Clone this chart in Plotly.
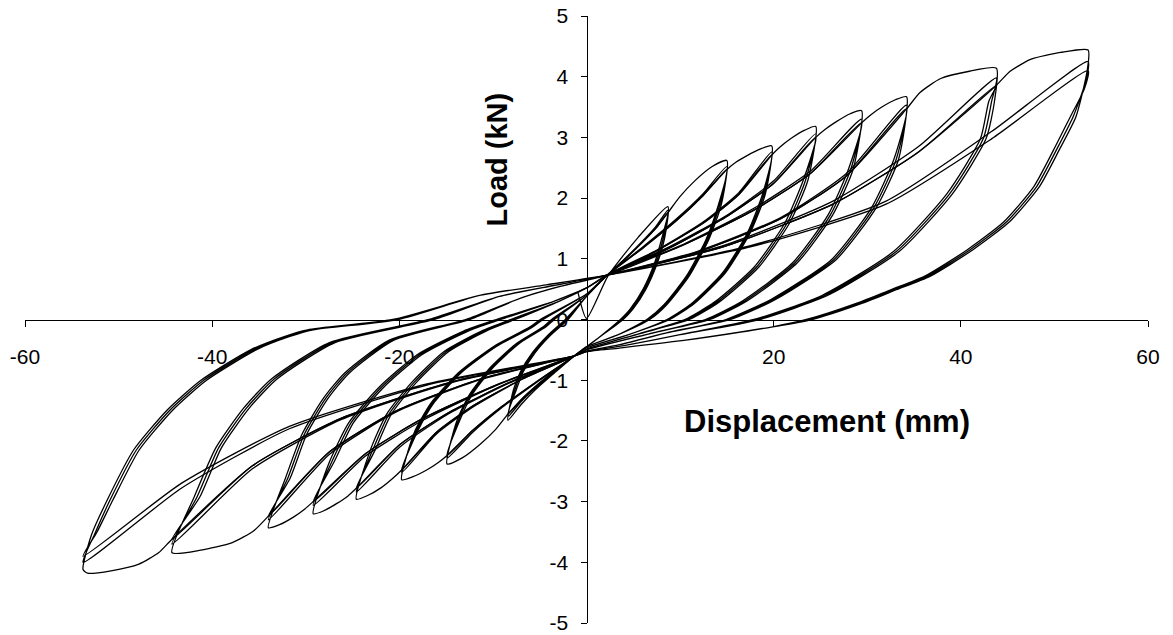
import plotly.graph_objects as go

# ---- tick values / labels ----
x_ticks = [-60, -40, -20, 20, 40, 60]
x_labels = ["-60", "-40", "-20", "20", "40", "60"]
y_ticks = [-5, -4, -3, -2, -1, 0, 1, 2, 3, 4, 5]
y_labels = ["-5", "-4", "-3", "-2", "-1", "0", "1", "2", "3", "4", "5"]

# ---- hysteresis paths, one list per displacement level (3 cycles each) ----
level1 = [
    (-0.9, 0.44), (0, 0.02), (2.3, 0.72), (5.5, 1.35), (8.7, 1.86),
    (8.35, 1.34), (7.57, 0.93), (6.35, 0.5), (4.96, 0.17), (3.92, 0), (1.3, -0.3), (0, -0.45), (-1.3, -0.6),
    (-3.43, -0.88), (-5.42, -1.15), (-6.98, -1.4), (-8.4, -1.66),
    (-7.81, -1.16), (-7.06, -0.86), (-5.8, -0.55), (-4.2, -0.27), (-2.27, 0), (0, 0.38), (2.2, 0.73),
    (4.15, 1.01), (5.97, 1.29), (7.4, 1.53), (8.7, 1.8),
    (8.2, 1.34), (7.42, 0.93), (6.2, 0.5), (4.81, 0.17), (3.77, 0), (1.3, -0.3), (0, -0.45), (-1.3, -0.6),
    (-3.43, -0.86), (-5.42, -1.12), (-6.98, -1.35), (-8.4, -1.6),
    (-7.66, -1.16), (-6.91, -0.86), (-5.65, -0.55), (-4.05, -0.27), (-2.12, 0), (0, 0.38), (2.2, 0.73),
    (4.15, 1.0), (5.97, 1.27), (7.4, 1.5), (8.7, 1.76),
    (8.05, 1.34), (7.27, 0.93), (6.05, 0.5), (4.66, 0.17), (3.62, 0), (1.3, -0.3), (0, -0.45), (-1.3, -0.6),
    (-3.43, -0.85), (-5.42, -1.1), (-6.98, -1.32), (-8.4, -1.56),
    (-7.51, -1.16), (-6.76, -0.86), (-5.5, -0.55), (-3.9, -0.27), (-1.97, 0), (0, 0.38), (2.2, 0.73),
]

level2 = [
    (2.2, 0.73), (4.15, 1.0), (5.97, 1.27), (7.4, 1.5), (8.7, 1.76),
    (9.96, 2.02), (11.54, 2.28), (13.43, 2.52), (15.0, 2.62),
    (14.4, 1.89), (13.05, 1.31), (10.95, 0.71), (8.55, 0.24), (6.75, 0), (3.4, -0.25), (0, -0.45), (-1.3, -0.6),
    (-3.43, -0.85), (-5.42, -1.1), (-6.98, -1.32), (-8.4, -1.56),
    (-9.7, -1.81), (-11.33, -2.05), (-13.28, -2.28), (-14.9, -2.38),
    (-13.86, -1.67), (-12.52, -1.24), (-10.28, -0.79), (-7.45, -0.39), (-4.62, -0.12), (-3.73, 0), (0, 0.4), (2.2, 0.73),
    (6.04, 1.2), (9.62, 1.66), (12.44, 2.07), (15.0, 2.52),
    (14.25, 1.89), (12.9, 1.31), (10.8, 0.71), (8.4, 0.24), (6.6, 0), (3.4, -0.25), (0, -0.45), (-1.3, -0.6),
    (-5.38, -1.04), (-9.19, -1.47), (-12.18, -1.86), (-14.9, -2.28),
    (-13.71, -1.67), (-12.37, -1.24), (-10.13, -0.79), (-7.3, -0.39), (-4.47, -0.12), (-3.58, 0), (0, 0.4), (2.2, 0.73),
    (6.04, 1.18), (9.62, 1.63), (12.44, 2.04), (15.0, 2.47),
    (14.1, 1.89), (12.75, 1.31), (10.65, 0.71), (8.25, 0.24), (6.45, 0), (3.4, -0.25), (0, -0.45), (-1.3, -0.6),
    (-5.38, -1.03), (-9.19, -1.45), (-12.18, -1.83), (-14.9, -2.24),
    (-13.56, -1.67), (-12.22, -1.24), (-9.98, -0.79), (-7.15, -0.39), (-4.32, -0.12), (-3.43, 0), (0, 0.4), (2.2, 0.73),
]

level3 = [
    (2.2, 0.73), (6.04, 1.18), (9.62, 1.63), (12.44, 2.04), (15.0, 2.47),
    (15.96, 2.59), (17.16, 2.7), (18.6, 2.81), (19.8, 2.86),
    (19.1, 2.06), (17.5, 1.43), (14.85, 0.77), (11.5, 0.26), (8.9, 0), (4.5, -0.25), (0, -0.47), (-1.3, -0.6),
    (-5.38, -1.03), (-9.19, -1.45), (-12.18, -1.83), (-14.9, -2.24),
    (-15.87, -2.36), (-17.08, -2.48), (-18.54, -2.59), (-19.75, -2.64),
    (-18.37, -1.85), (-16.59, -1.37), (-13.63, -0.87), (-9.88, -0.44), (-6.12, -0.13), (-4.94, 0), (0, 0.42), (2.2, 0.73),
    (7.48, 1.14), (12.41, 1.6), (16.28, 2.09), (19.8, 2.76),
    (18.95, 2.06), (17.35, 1.43), (14.7, 0.77), (11.35, 0.26), (8.75, 0), (4.5, -0.25), (0, -0.47), (-1.3, -0.6),
    (-6.84, -0.98), (-12.0, -1.43), (-16.06, -1.89), (-19.75, -2.52),
    (-18.22, -1.85), (-16.44, -1.37), (-13.48, -0.87), (-9.73, -0.44), (-5.97, -0.13), (-4.79, 0), (0, 0.42), (2.2, 0.73),
    (7.48, 1.13), (12.41, 1.58), (16.28, 2.06), (19.8, 2.71),
    (18.8, 2.06), (17.2, 1.43), (14.55, 0.77), (11.2, 0.26), (8.6, 0), (4.5, -0.25), (0, -0.47), (-1.3, -0.6),
    (-6.84, -0.98), (-12.0, -1.41), (-16.06, -1.86), (-19.75, -2.48),
    (-18.07, -1.85), (-16.29, -1.37), (-13.33, -0.87), (-9.58, -0.44), (-5.82, -0.13), (-4.64, 0), (0, 0.42), (2.2, 0.73),
]

level4 = [
    (2.2, 0.73), (7.48, 1.13), (12.41, 1.58), (16.28, 2.06), (19.8, 2.71),
    (20.74, 2.85), (21.92, 2.99), (23.33, 3.12), (24.5, 3.18),
    (23.65, 2.29), (21.7, 1.59), (18.4, 0.86), (14.2, 0.29), (11.0, 0), (5.5, -0.24), (0, -0.49), (-1.3, -0.6),
    (-6.84, -0.98), (-12.0, -1.41), (-16.06, -1.86), (-19.75, -2.48),
    (-20.72, -2.62), (-21.93, -2.77), (-23.39, -2.9), (-24.6, -2.96),
    (-23.12, -2.16), (-21.4, -1.57), (-18.7, -1.04), (-15.25, -0.53), (-11.07, -0.18), (-8.12, 0), (-2.95, 0.3), (0, 0.52), (2.2, 0.73),
    (8.89, 1.2), (15.13, 1.73), (20.04, 2.29), (24.5, 3.06),
    (23.4, 2.29), (21.45, 1.59), (18.15, 0.86), (13.95, 0.29), (10.75, 0), (5.5, -0.24), (0, -0.49), (-1.3, -0.6),
    (-8.29, -1.05), (-14.81, -1.56), (-19.94, -2.1), (-24.6, -2.84),
    (-22.87, -2.16), (-21.15, -1.57), (-18.45, -1.04), (-15.0, -0.53), (-10.82, -0.18), (-7.87, 0), (-2.95, 0.3), (0, 0.52), (2.2, 0.73),
    (8.89, 1.18), (15.13, 1.71), (20.04, 2.25), (24.5, 3.0),
    (23.15, 2.29), (21.2, 1.59), (17.9, 0.86), (13.7, 0.29), (10.5, 0), (5.5, -0.24), (0, -0.49), (-1.3, -0.6),
    (-8.29, -1.04), (-14.81, -1.54), (-19.94, -2.06), (-24.6, -2.78),
    (-22.62, -2.16), (-20.9, -1.57), (-18.2, -1.04), (-14.75, -0.53), (-10.57, -0.18), (-7.62, 0), (-2.95, 0.3), (0, 0.52), (2.2, 0.73),
]

level5 = [
    (2.2, 0.73), (8.89, 1.18), (15.13, 1.71), (20.04, 2.25), (24.5, 3.0),
    (25.48, 3.13), (26.7, 3.26), (28.18, 3.39), (29.4, 3.44),
    (28.5, 2.48), (26.3, 1.72), (22.5, 0.93), (17.2, 0.31), (13.2, 0), (6.6, -0.24), (0, -0.5), (-1.3, -0.6),
    (-8.29, -1.04), (-14.81, -1.54), (-19.94, -2.06), (-24.6, -2.78),
    (-25.52, -2.91), (-26.67, -3.03), (-28.05, -3.15), (-29.2, -3.2),
    (-27.45, -2.34), (-25.4, -1.7), (-22.19, -1.12), (-18.1, -0.58), (-13.14, -0.19), (-9.64, 0), (-3.5, 0.3), (0, 0.52), (2.2, 0.73),
    (10.36, 1.24), (17.98, 1.84), (23.96, 2.45), (29.4, 3.3),
    (28.25, 2.48), (26.05, 1.72), (22.25, 0.93), (16.95, 0.31), (12.95, 0), (6.6, -0.24), (0, -0.5), (-1.3, -0.6),
    (-9.67, -1.09), (-17.48, -1.66), (-23.62, -2.25), (-29.2, -3.06),
    (-27.2, -2.34), (-25.15, -1.7), (-21.94, -1.12), (-17.85, -0.58), (-12.89, -0.19), (-9.39, 0), (-3.5, 0.3), (0, 0.52), (2.2, 0.73),
    (10.36, 1.23), (17.98, 1.81), (23.96, 2.41), (29.4, 3.24),
    (28.0, 2.48), (25.8, 1.72), (22.0, 0.93), (16.7, 0.31), (12.7, 0), (6.6, -0.24), (0, -0.5), (-1.3, -0.6),
    (-9.67, -1.08), (-17.48, -1.63), (-23.62, -2.21), (-29.2, -3.0),
    (-26.95, -2.34), (-24.9, -1.7), (-21.69, -1.12), (-17.6, -0.58), (-12.64, -0.19), (-9.14, 0), (-3.5, 0.3), (0, 0.52), (2.2, 0.73),
]

level6 = [
    (2.2, 0.73), (10.36, 1.23), (17.98, 1.81), (23.96, 2.41), (29.4, 3.24),
    (30.36, 3.37), (31.56, 3.5), (33.0, 3.62), (34.2, 3.67),
    (33.35, 2.64), (30.95, 1.84), (26.7, 0.99), (20.2, 0.33), (15.4, 0), (8.55, -0.22), (3.42, -0.42), (0, -0.52), (-1.3, -0.6),
    (-9.67, -1.08), (-17.48, -1.63), (-23.62, -2.21), (-29.2, -3.0),
    (-30.16, -3.13), (-31.36, -3.26), (-32.8, -3.38), (-34.0, -3.43),
    (-32.16, -2.61), (-30.4, -1.89), (-28.12, -1.3), (-25.84, -0.88), (-21.08, -0.34), (-12.92, 0), (-7.1, 0.35), (-2.7, 0.55), (2.2, 0.73),
    (11.8, 1.12), (20.76, 1.68), (27.8, 2.41), (34.2, 3.53),
    (33.1, 2.64), (30.7, 1.84), (26.45, 0.99), (19.95, 0.33), (15.15, 0), (8.55, -0.22), (3.42, -0.42), (0, -0.52), (-1.3, -0.6),
    (-11.11, -0.98), (-20.27, -1.52), (-27.46, -2.22), (-34.0, -3.3),
    (-31.91, -2.61), (-30.15, -1.89), (-27.87, -1.3), (-25.59, -0.88), (-20.83, -0.34), (-12.67, 0), (-7.1, 0.35), (-2.7, 0.55), (2.2, 0.73),
    (11.8, 1.11), (20.76, 1.66), (27.8, 2.37), (34.2, 3.47),
    (32.85, 2.64), (30.45, 1.84), (26.2, 0.99), (19.7, 0.33), (14.9, 0), (8.55, -0.22), (3.42, -0.42), (0, -0.52), (-1.3, -0.6),
    (-11.11, -0.97), (-20.27, -1.5), (-27.46, -2.18), (-34.0, -3.24),
    (-31.66, -2.61), (-29.9, -1.89), (-27.62, -1.3), (-25.34, -0.88), (-20.58, -0.34), (-12.42, 0), (-7.1, 0.35), (-2.7, 0.55), (2.2, 0.73),
]

level7 = [
    (2.2, 0.73), (11.8, 1.11), (20.76, 1.66), (27.8, 2.37), (34.2, 3.47),
    (35.64, 3.74), (37.85, 3.97), (40.92, 4.09), (43.8, 4.14),
    (43.6, 3.6), (42.7, 2.98), (39.1, 2.07), (33.4, 1.12), (25.8, 0.4), (18.5, 0), (10.0, -0.25), (4.0, -0.43), (0, -0.53), (-1.3, -0.6),
    (-11.11, -0.97), (-20.27, -1.5), (-27.46, -2.18), (-34.0, -3.24),
    (-35.55, -3.48), (-37.91, -3.68), (-41.21, -3.8), (-44.3, -3.84),
    (-41.91, -2.92), (-39.6, -2.11), (-36.64, -1.46), (-33.67, -0.98), (-27.47, -0.38), (-16.83, 0), (-9.3, 0.38), (-3.5, 0.56), (2.2, 0.73),
    (14.68, 1.22), (26.33, 1.95), (35.48, 2.85), (43.8, 3.98),
    (43.3, 3.6), (42.4, 2.98), (38.8, 2.07), (33.1, 1.12), (25.5, 0.4), (18.2, 0), (10.0, -0.25), (4.0, -0.43), (0, -0.53), (-1.3, -0.6),
    (-14.2, -1.03), (-26.24, -1.65), (-35.7, -2.46), (-44.3, -3.7),
    (-41.61, -2.92), (-39.3, -2.11), (-36.34, -1.46), (-33.37, -0.98), (-27.17, -0.38), (-16.53, 0), (-9.3, 0.38), (-3.5, 0.56), (2.2, 0.73),
    (14.68, 1.2), (26.33, 1.9), (35.48, 2.76), (43.8, 3.86),
    (43.0, 3.6), (42.1, 2.98), (38.5, 2.07), (32.8, 1.12), (25.2, 0.4), (17.9, 0), (10.0, -0.25), (4.0, -0.43), (0, -0.53), (-1.3, -0.6),
    (-14.2, -1.02), (-26.24, -1.63), (-35.7, -2.41), (-44.3, -3.62),
    (-41.31, -2.92), (-39.0, -2.11), (-36.04, -1.46), (-33.07, -0.98), (-26.87, -0.38), (-16.23, 0), (-9.3, 0.38), (-3.5, 0.56), (2.2, 0.73),
]

level8 = [
    (2.2, 0.73), (14.68, 1.2), (26.33, 1.9), (35.48, 2.76), (43.8, 3.86),
    (45.27, 4.09), (47.52, 4.29), (50.66, 4.4), (53.6, 4.44),
    (53.5, 4.1), (52.3, 3.34), (50.5, 2.79), (48.4, 2.19), (45.2, 1.61), (41.3, 1.15), (36.7, 0.71), (33.1, 0.49),
    (29.5, 0.27), (24.1, 0), (19.9, -0.12), (10.6, -0.34), (3.5, -0.47), (0, -0.53), (-1.3, -0.6),
    (-14.2, -1.02), (-26.24, -1.63), (-35.7, -2.41), (-44.3, -3.62),
    (-45.7, -3.84), (-47.83, -4.03), (-50.81, -4.14), (-53.3, -4.18), (-53.8, -4.12),
    (-52.9, -3.55), (-51.2, -2.97), (-48.4, -2.15), (-44.8, -1.49), (-41.2, -1.0), (-35.9, -0.5), (-32.3, -0.28),
    (-29.8, -0.17), (-20.7, 0), (-11.3, 0.4), (-4.3, 0.57), (2.2, 0.73),
    (17.62, 1.22), (32.01, 1.95), (43.32, 3.1), (53.6, 4.25),
    (53.4, 3.95), (52.0, 3.34), (50.2, 2.79), (48.1, 2.19), (44.9, 1.61), (41.0, 1.15), (36.4, 0.71), (32.8, 0.49),
    (29.2, 0.27), (23.8, 0), (19.9, -0.12), (10.6, -0.34), (3.5, -0.47), (0, -0.53), (-1.3, -0.6),
    (-17.05, -1.08), (-31.75, -1.8), (-43.3, -2.78), (-53.8, -4.0),
    (-52.6, -3.55), (-50.9, -2.97), (-48.1, -2.15), (-44.5, -1.49), (-40.9, -1.0), (-35.6, -0.5), (-32.0, -0.28),
    (-29.5, -0.17), (-20.4, 0), (-11.3, 0.4), (-4.3, 0.57), (2.2, 0.73),
    (17.62, 1.2), (32.01, 1.9), (43.32, 2.98), (53.6, 4.1),
    (53.2, 3.8), (51.7, 3.34), (49.9, 2.79), (47.8, 2.19), (44.6, 1.61), (40.7, 1.15), (36.1, 0.71), (32.5, 0.49),
    (28.9, 0.27), (23.5, 0), (19.9, -0.12), (10.6, -0.34), (3.5, -0.47), (0, -0.53), (-1.3, -0.6),
    (-17.05, -1.06), (-31.75, -1.76), (-43.3, -2.7), (-53.8, -3.9),
    (-52.3, -3.5), (-50.6, -2.97), (-47.8, -2.15), (-44.2, -1.49), (-40.6, -1.0), (-35.3, -0.5), (-31.7, -0.28),
    (-29.2, -0.17), (-20.1, 0), (-11.3, 0.4), (-4.3, 0.57), (2.2, 0.73),
]

levels = [level1, level2, level3, level4, level5, level6, level7, level8]

FONT = "Liberation Sans, Arial, sans-serif"

fig = go.Figure()
for lv in levels:
    fig.add_trace(go.Scatter(
        x=[p[0] for p in lv], y=[p[1] for p in lv],
        mode="lines", line=dict(color="#000000", width=1.3, shape="spline", smoothing=0.6),
        hoverinfo="skip", showlegend=False,
    ))

common_x = dict(range=[-60, 60], showgrid=False, zeroline=False, fixedrange=True, automargin=False,
                tickmode="array", tickvals=x_ticks, ticktext=x_labels,
                ticks="outside", ticklen=6, tickcolor="#000000", tickwidth=1)
common_y = dict(range=[-5, 5], showgrid=False, zeroline=False, fixedrange=True, automargin=False,
                tickmode="array", tickvals=y_ticks, ticktext=y_labels,
                ticks="outside", ticklen=6, tickcolor="#000000", tickwidth=1)

fig.update_layout(
    width=1173, height=635,
    margin=dict(l=25, r=25, t=16, b=12),
    paper_bgcolor="white", plot_bgcolor="white",
    showlegend=False,
    xaxis=dict(**common_x, anchor="free", position=0.5, showline=True, linecolor="#000000", linewidth=1,
               tickfont=dict(family=FONT, size=21, color="#000000"), ticklabelstandoff=12),
    xaxis2=dict(**common_x, overlaying="x", anchor="free", position=0.5, side="top", showline=False,
                showticklabels=False),
    yaxis=dict(**common_y, anchor="free", position=0.5, showline=True, linecolor="#000000", linewidth=1,
               tickfont=dict(family=FONT, size=21, color="#000000"), ticklabelstandoff=8),
    yaxis2=dict(**common_y, overlaying="y", anchor="free", position=0.5, side="right", showline=False,
                showticklabels=False),
    annotations=[
        dict(text="<b>Load (kN)</b>", x=-9.6, y=2.63, xref="x", yref="y", showarrow=False, textangle=-90,
             font=dict(family=FONT, size=29, color="#000000")),
        dict(text="<b>Displacement (mm)</b>", x=25.7, y=-1.68, xref="x", yref="y", showarrow=False,
             font=dict(family=FONT, size=31, color="#000000")),
    ],
)

fig.write_html("out.html")
